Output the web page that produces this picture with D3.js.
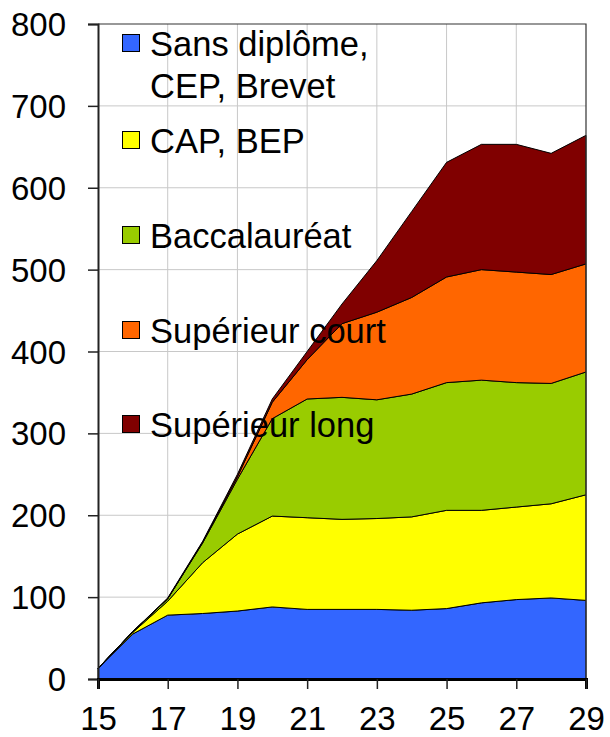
<!DOCTYPE html>
<html lang="fr">
<head>
<meta charset="utf-8">
<title>Diplômes par âge</title>
<script src="https://cdn.jsdelivr.net/npm/d3@7"></script>
<style>
  body { margin: 0; background: #fff; }
  text { font-family: "Liberation Sans", Arial, sans-serif; fill: #000; }
</style>
</head>
<body>
<script>
// ages (x axis)
var ages = [15, 16, 17, 18, 19, 20, 21, 22, 23, 24, 25, 26, 27, 28, 29];

// values per level
var sansDiplome = [13, 55, 78, 80, 83, 88, 85, 85, 85, 84, 86, 93, 97, 99, 96];
var capBep      = [0, 2, 17, 62, 94, 111, 112, 110, 111, 114, 120, 113, 113, 115, 129];
var bac         = [0, 1, 3, 24, 67, 119, 145, 149, 145, 150, 156, 159, 152, 147, 150];
var supCourt    = [0, 0, 0, 1, 3, 20, 48, 90, 107, 118, 129, 135, 135, 133, 132];
var supLong     = [0, 0, 1, 1, 3, 4, 10, 24, 63, 105, 140, 153, 156, 148, 157];

var seriesNames = ["Sans diplôme,\nCEP, Brevet", "CAP, BEP", "Baccalauréat", "Supérieur court", "Supérieur long"];
var seriesColors = ["#3366FF", "#FFFF00", "#99CC00", "#FF6600", "#800000"];
var yTicks = [0, 100, 200, 300, 400, 500, 600, 700, 800];
var xTicks = [15, 17, 19, 21, 23, 25, 27, 29];

var w = 610, h = 737;
var pLeft = 98, pRight = 586, pTop = 24, pBottom = 679;

var svg = d3.select("body").append("svg")
    .attr("width", w)
    .attr("height", h);

var x = d3.scaleLinear().domain([15, 29]).range([pLeft, pRight]);
var y = d3.scaleLinear().domain([0, 800]).range([pBottom, pTop]);

// build rows for d3.stack
var allSeries = [sansDiplome, capBep, bac, supCourt, supLong];
var rows = ages.map(function(a, i) {
  var r = { age: a };
  allSeries.forEach(function(s, k) { r["s" + k] = s[i]; });
  return r;
});
var keys = allSeries.map(function(s, k) { return "s" + k; });
var stacked = d3.stack().keys(keys)(rows);

// grid
svg.append("g").selectAll("line")
   .data(yTicks.slice(1, -1))
   .enter().append("line")
   .attr("x1", pLeft).attr("x2", pRight)
   .attr("y1", function(d) { return y(d); })
   .attr("y2", function(d) { return y(d); })
   .attr("stroke", "#c8c8c8").attr("stroke-width", 1);
svg.append("g").selectAll("line")
   .data(xTicks.slice(1, -1))
   .enter().append("line")
   .attr("y1", pTop).attr("y2", pBottom)
   .attr("x1", function(d) { return x(d); })
   .attr("x2", function(d) { return x(d); })
   .attr("stroke", "#c8c8c8").attr("stroke-width", 1);

// areas
var area = d3.area()
    .x(function(d) { return x(d.data.age); })
    .y0(function(d) { return y(d[0]); })
    .y1(function(d) { return y(d[1]); });

svg.append("g").selectAll("path")
   .data(stacked)
   .enter().append("path")
   .attr("d", area)
   .attr("fill", function(d, i) { return seriesColors[i]; })
   .attr("stroke", "#000")
   .attr("stroke-width", 1)
   .attr("stroke-linejoin", "round");

// frame top/right
svg.append("path")
   .attr("d", "M" + pLeft + "," + pTop + "H" + pRight + "V" + pBottom)
   .attr("fill", "none").attr("stroke", "#333").attr("stroke-width", 1.2);

// y axis
var yAxis = d3.axisLeft(y).tickValues(yTicks).tickSize(10).tickPadding(22);
var gy = svg.append("g").attr("transform", "translate(" + pLeft + ",0)").call(yAxis);
gy.select(".domain").attr("stroke", "#222").attr("stroke-width", 2);
gy.selectAll(".tick line").attr("stroke", "#222").attr("stroke-width", 1.5);
gy.selectAll("text").attr("font-size", "33px").attr("font-family", "Liberation Sans, Arial, sans-serif")
  .attr("fill", "#000").attr("dy", "0.35em");

// x axis
var xAxis = d3.axisBottom(x).tickValues(xTicks).tickSize(10).tickPadding(18);
var gx = svg.append("g").attr("transform", "translate(0," + pBottom + ")").call(xAxis);
gx.select(".domain").attr("stroke", "#000").attr("stroke-width", 3);
gx.selectAll(".tick line").attr("stroke", "#222").attr("stroke-width", 1.5);
gx.selectAll("text").attr("font-size", "33px").attr("font-family", "Liberation Sans, Arial, sans-serif")
  .attr("fill", "#000");

// legend (transparent, over the grid)
var legendBase = [56, 153, 248, 343, 437];
var leg = svg.append("g");
seriesNames.forEach(function(name, i) {
  var b = legendBase[i];
  leg.append("rect")
     .attr("x", 122.5).attr("y", b - 21.5)
     .attr("width", 17).attr("height", 17)
     .attr("fill", seriesColors[i])
     .attr("stroke", "#000").attr("stroke-width", 1);
  var t = leg.append("text")
     .attr("x", 150).attr("y", b)
     .attr("font-size", "34.5px");
  name.split("\n").forEach(function(line, j) {
    t.append("tspan").attr("x", 150).attr("dy", j === 0 ? 0 : 42).text(line);
  });
});
</script>
</body>
</html>
